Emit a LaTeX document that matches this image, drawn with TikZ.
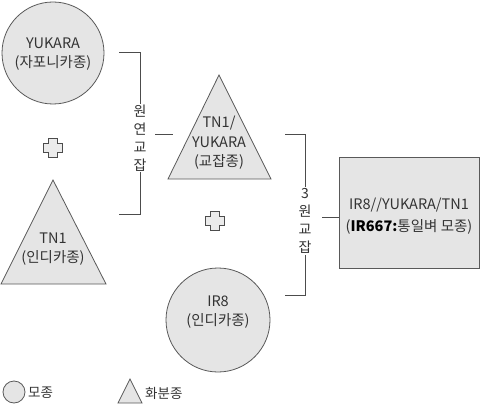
\documentclass[tikz,border=0pt]{standalone}
\usepackage{fontspec}
\setmainfont{Noto Sans CJK KR}
\begin{document}
\begin{tikzpicture}[x=1pt,y=-1pt,
  shapefill/.style={draw=black!65, fill=black!10, line width=0.8pt},
  brk/.style={draw=black!70, line width=1pt},
  lbl/.style={font=\fontsize{14.5}{19.5}\selectfont, text=black!80, align=center, inner sep=0pt},
  vlbl/.style={font=\fontsize{14}{18}\selectfont, text=black!80, align=center, inner sep=1pt, fill=white},
  plussign/.style={draw=black!70, fill=black!8, line width=1pt}]
\useasboundingbox (0,0) rectangle (481,409);
% parents
\node[shapefill, circle, minimum size=102pt, inner sep=0pt] (yukara) at (53,53) {};
\node[lbl] (yukaratxt) at (53,54) {YUKARA\\(자포니카종)};
\draw[shapefill] (53,180) -- (106,284) -- (1,284) -- cycle;
\node[lbl] (tn1txt) at (53,249) {TN1\\(인디카종)};
% plus 1
\draw[plussign] (48,138) -- (57,138) -- (57,143) -- (62,143) -- (62,152) -- (57,152) -- (57,157) -- (48,157) -- (48,152) -- (43,152) -- (43,143) -- (48,143) -- cycle;
% bracket 1
\coordinate (b1t) at (140,53);
\coordinate (b1b) at (140,214);
\draw[brk] (119,53) -- (b1t) -- (b1b) -- (119,214);
\node[vlbl] (lab1) at (140,138) {원\\연\\교\\잡};
\draw[brk] (155,134) -- (173,134);
% F1 triangle
\draw[shapefill] (219,75) -- (271,179) -- (168,179) -- cycle;
\node[lbl] (f1txt) at (219,143) {TN1/\\YUKARA\\(교잡종)};
% plus 2
\draw[plussign] (210,211) -- (219,211) -- (219,216) -- (224,216) -- (224,225) -- (219,225) -- (219,230) -- (210,230) -- (210,225) -- (205,225) -- (205,216) -- (210,216) -- cycle;
% IR8
\node[shapefill, circle, minimum size=104pt, inner sep=0pt] (ir8) at (218,320) {};
\node[lbl] (ir8txt) at (218,312) {IR8\\(인디카종)};
% bracket 2
\coordinate (b2t) at (305,134);
\coordinate (b2b) at (305,295);
\draw[brk] (285,134) -- (b2t) -- (b2b) -- (285,295);
\node[vlbl] (lab2) at (305,221) {3\\원\\교\\잡};
\draw[brk] (322,217) -- (339,217);
% result box
\node[shapefill, rectangle, minimum width=140pt, minimum height=111pt, anchor=north west] (res) at (339,157) {};
\node[lbl, font=\fontsize{14.5}{22}\selectfont] (restxt) at (409,216) {IR8//YUKARA/TN1\\(\textbf{\color{black}IR667:}통일벼 모종)};
% legend
\node[shapefill, circle, minimum size=22pt, inner sep=0pt] (legc) at (14,392) {};
\node[lbl, font=\fontsize{13.5}{16}\selectfont, anchor=west] (legct) at (28,393) {모종};
\draw[shapefill] (130,379) -- (142,403) -- (118,403) -- cycle;
\node[lbl, font=\fontsize{13.5}{16}\selectfont, anchor=west] (legtt) at (145,393) {화분종};
\end{tikzpicture}
\end{document}
